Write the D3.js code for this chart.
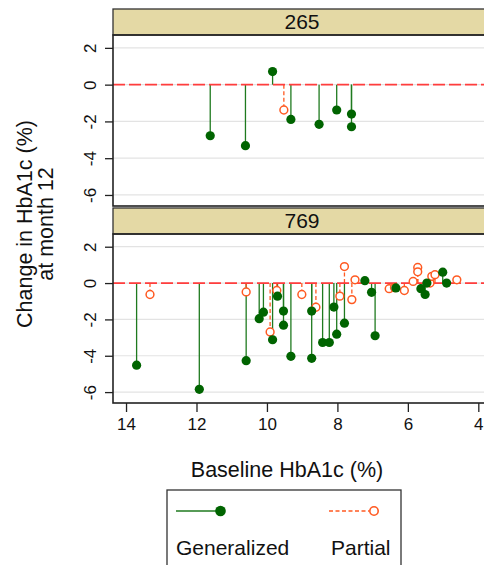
<!DOCTYPE html>
<html>
<head>
<meta charset="utf-8">
<style>
    body { margin: 0; background: white; }
    svg { display: block; font-family: 'Liberation Sans', Arial, sans-serif; }
</style>
</head>
<body>
<svg width="484" height="565"></svg>
<script src="https://d3js.org/d3.v7.min.js"></script>
<script>
    // panels (strip labels)
    const panels = ["265", "769"];

    // [baseline HbA1c, change at month 12]
    const gen265 = [[11.61, -2.78], [10.61, -3.32], [9.84, 0.71], [9.32, -1.89], [8.52, -2.16],
                    [8.02, -1.38], [7.6, -1.6], [7.6, -2.29]];
    const par265 = [[9.52, -1.38]];

    const gen769 = [[13.70, -4.52], [11.92, -5.85], [10.59, -4.27], [10.22, -1.96], [10.10, -1.6],
                    [9.84, -3.12], [9.70, -0.72], [9.53, -1.54], [9.53, -2.32], [9.32, -4.03],
                    [8.73, -1.54], [8.73, -4.14], [8.42, -3.27], [8.23, -3.27], [8.10, -1.32],
                    [8.02, -2.81], [7.80, -2.21], [7.22, 0.13], [7.03, -0.51], [6.93, -2.9],
                    [6.34, -0.27], [5.63, -0.31], [5.51, -0.63], [5.46, 0.0], [5.01, 0.6], [4.9, 0.0]];
    const par769 = [[13.32, -0.63], [10.59, -0.49], [9.91, -2.69], [9.72, -0.41], [9.01, -0.63],
                    [8.61, -1.33], [7.93, -0.72], [7.80, 0.91], [7.59, -0.91], [7.50, 0.18],
                    [6.53, -0.31], [6.38, -0.25], [6.10, -0.41], [5.85, 0.09], [5.72, 0.86],
                    [5.72, 0.62], [5.37, 0.0], [5.32, 0.37], [5.23, 0.46], [4.61, 0.18]];

    const xTicks = [14, 12, 10, 8, 6, 4];
    const yTicks = [2, 0, -2, -4, -6];

    const green = "#006400", greenLine = "#1f7a1f", orange = "#ff5a22", refRed = "#ff3d3d";

    const svg = d3.select("svg");
    const left = 113, right = 491;

    let x = d3.scaleLinear().domain([14.37, 3.64]).range([left, right]);

    // strip top, plot top, plot bottom for each panel
    const layout = [
        { strip: 9, top: 35, bottom: 206, gen: gen265, par: par265 },
        { strip: 208, top: 234, bottom: 403, gen: gen769, par: par769 }
    ];

    layout.forEach(function (p, i) {
        let y = d3.scaleLinear().domain([2.7, -6.6]).range([p.top, p.bottom]);
        let g = svg.append("g");

        // strip
        g.append("rect")
            .attr("x", left).attr("y", p.strip)
            .attr("width", right - left).attr("height", p.top - p.strip)
            .style("fill", "#e4d9a5").style("stroke", "#333").style("stroke-width", 1.3);
        g.append("text")
            .attr("x", (left + right) / 2).attr("y", p.top - 6)
            .attr("text-anchor", "middle")
            .style("font-size", "21px").style("fill", "#111")
            .text(panels[i]);

        // grid
        g.selectAll(".grid")
            .data(yTicks)
            .join("line")
            .attr("x1", left).attr("x2", right)
            .attr("y1", d => y(d)).attr("y2", d => y(d))
            .style("stroke", "#e3e3e3").style("stroke-width", 1.2);

        // y axis
        let yAxis = g.append("g")
            .attr("transform", "translate(" + left + ",0)")
            .call(d3.axisLeft(y).tickValues(yTicks).tickSize(8).tickFormat(d => String(d)));
        yAxis.select(".domain").remove();
        yAxis.selectAll(".tick line").style("stroke", "#222").style("stroke-width", 1.3);
        yAxis.selectAll(".tick text")
            .attr("x", null).attr("dy", null)
            .attr("transform", "translate(-17.5,0) rotate(-90)")
            .attr("text-anchor", "middle")
            .style("font-size", "17px").style("fill", "#111")
            .style("font-family", "'Liberation Sans', Arial, sans-serif");

        // stems
        g.selectAll(".gstem")
            .data(p.gen)
            .join("line")
            .attr("x1", d => x(d[0])).attr("x2", d => x(d[0]))
            .attr("y1", y(0)).attr("y2", d => y(d[1]))
            .style("stroke", greenLine).style("stroke-width", 1.3);
        g.selectAll(".pstem")
            .data(p.par)
            .join("line")
            .attr("x1", d => x(d[0])).attr("x2", d => x(d[0]))
            .attr("y1", y(0)).attr("y2", d => y(d[1]))
            .style("stroke", orange).style("stroke-width", 1.3)
            .style("stroke-dasharray", "4,2.5");

        // reference line at 0
        g.append("line")
            .attr("x1", left).attr("x2", right)
            .attr("y1", y(0)).attr("y2", y(0))
            .style("stroke", refRed).style("stroke-width", 1.8)
            .style("stroke-dasharray", "12,4");

        // markers
        g.selectAll(".pdot")
            .data(p.par)
            .join("circle")
            .attr("cx", d => x(d[0])).attr("cy", d => y(d[1]))
            .attr("r", 3.9)
            .style("fill", "white").style("stroke", orange).style("stroke-width", 1.5);
        g.selectAll(".gdot")
            .data(p.gen)
            .join("circle")
            .attr("cx", d => x(d[0])).attr("cy", d => y(d[1]))
            .attr("r", 4.6)
            .style("fill", green);

        // plot frame
        g.append("rect")
            .attr("x", left).attr("y", p.top)
            .attr("width", right - left).attr("height", p.bottom - p.top)
            .style("fill", "none").style("stroke", "#222").style("stroke-width", 1.6);
    });

    // x axis under the bottom panel
    let xAxis = svg.append("g")
        .attr("transform", "translate(0,403)")
        .call(d3.axisBottom(x).tickValues(xTicks).tickSize(9).tickPadding(6));
    xAxis.select(".domain").remove();
    xAxis.selectAll(".tick line").style("stroke", "#222").style("stroke-width", 1.3);
    xAxis.selectAll(".tick text")
        .style("font-size", "17px").style("fill", "#111")
        .style("font-family", "'Liberation Sans', Arial, sans-serif");

    // axis titles
    svg.append("text")
        .attr("x", 287).attr("y", 477)
        .attr("text-anchor", "middle")
        .style("font-size", "21.5px").style("fill", "#111")
        .text("Baseline HbA1c (%)");

    let yt = svg.append("text")
        .attr("transform", "translate(0,224) rotate(-90)")
        .attr("text-anchor", "middle")
        .style("font-size", "21.5px").style("fill", "#111");
    yt.append("tspan").attr("x", 0).attr("y", 32).text("Change in HbA1c (%)");
    yt.append("tspan").attr("x", 0).attr("y", 53).text("at month 12");

    // legend
    let lg = svg.append("g");
    lg.append("rect")
        .attr("x", 167).attr("y", 490).attr("width", 234).attr("height", 90)
        .style("fill", "white").style("stroke", "#333").style("stroke-width", 1.3);
    lg.append("line")
        .attr("x1", 176).attr("x2", 220).attr("y1", 511).attr("y2", 511)
        .style("stroke", greenLine).style("stroke-width", 1.3);
    lg.append("circle")
        .attr("cx", 220.5).attr("cy", 511).attr("r", 5.3)
        .style("fill", green);
    lg.append("line")
        .attr("x1", 329).attr("x2", 369).attr("y1", 511).attr("y2", 511)
        .style("stroke", orange).style("stroke-width", 1.3)
        .style("stroke-dasharray", "4,2.5");
    lg.append("circle")
        .attr("cx", 374).attr("cy", 511).attr("r", 4.2)
        .style("fill", "white").style("stroke", orange).style("stroke-width", 1.6);
    lg.append("text")
        .attr("x", 176).attr("y", 555)
        .style("font-size", "21px").style("fill", "#111")
        .text("Generalized");
    lg.append("text")
        .attr("x", 331).attr("y", 555)
        .style("font-size", "21px").style("fill", "#111")
        .text("Partial");
</script>
</body>
</html>
